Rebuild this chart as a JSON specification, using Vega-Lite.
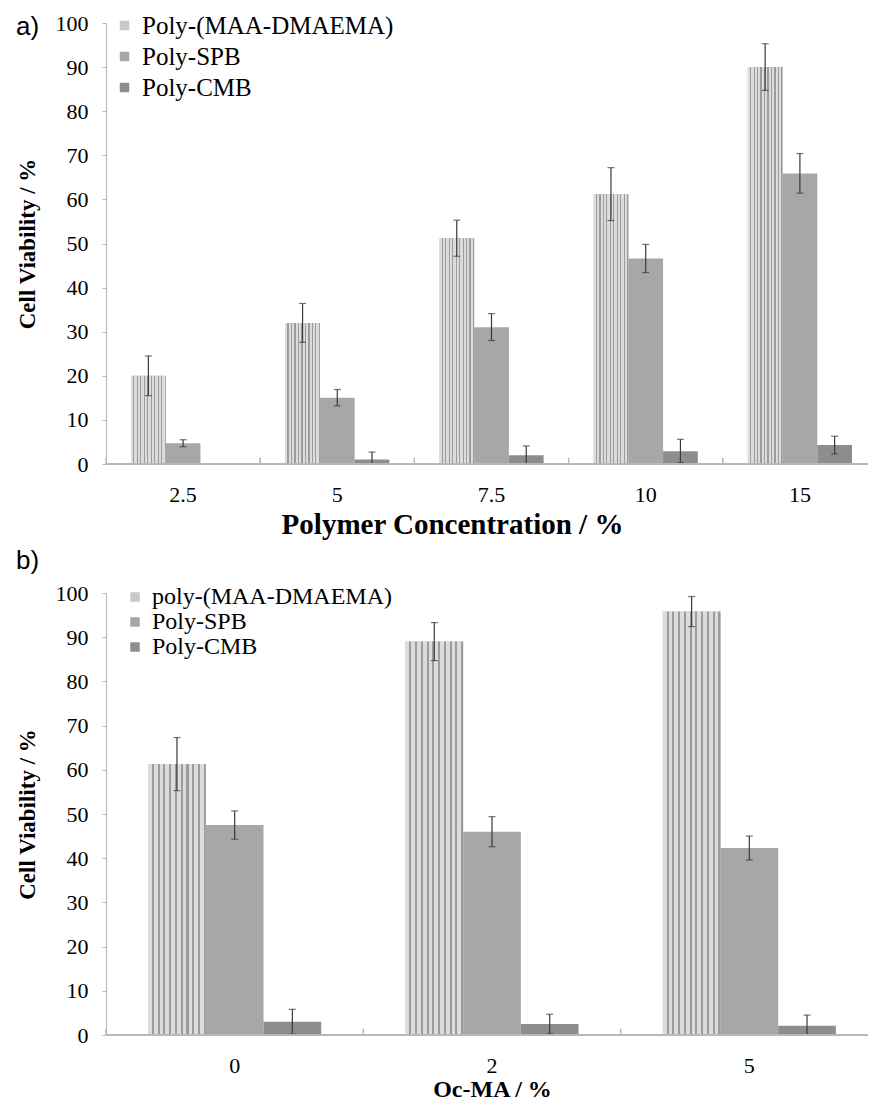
{
  "$schema": "https://vega.github.io/schema/vega-lite/v6.json",
  "background": "white",
  "padding": {"left": 16, "top": 12, "right": 0, "bottom": 0},
  "config": {
    "font": "Liberation Serif",
    "view": {"stroke": null},
    "axis": {
      "grid": false,
      "labelFont": "Liberation Serif",
      "labelFontSize": 22,
      "labelColor": "#000000",
      "titleFont": "Liberation Serif",
      "titleFontSize": 23,
      "titleFontWeight": "bold",
      "titleColor": "#000000",
      "domainColor": "#b8b8b8",
      "tickColor": "#b8b8b8"
    },
    "legend": {
      "orient": "none",
      "title": null,
      "labelFont": "Liberation Serif",
      "labelFontSize": 25,
      "labelColor": "#000000",
      "labelOffset": 5,
      "labelLimit": 400,
      "symbolType": "square",
      "symbolSize": 90,
      "symbolStrokeWidth": 0
    },
    "title": {
      "font": "Liberation Sans",
      "fontSize": 26,
      "fontWeight": "normal",
      "color": "#000000",
      "anchor": "start",
      "frame": "bounds"
    },
    "concat": {"spacing": 9}
  },
  "datasets": {
    "concentration": [
      {"conc": "2.5", "series": "Poly-(MAA-DMAEMA)", "v": 20.0, "lo": 15.5, "hi": 24.5},
      {"conc": "2.5", "series": "Poly-SPB", "v": 4.7, "lo": 3.9, "hi": 5.5},
      {"conc": "5", "series": "Poly-(MAA-DMAEMA)", "v": 32.0, "lo": 27.6, "hi": 36.4},
      {"conc": "5", "series": "Poly-SPB", "v": 15.0, "lo": 13.2, "hi": 16.9},
      {"conc": "5", "series": "Poly-CMB", "v": 1.0, "lo": 0.0, "hi": 2.7},
      {"conc": "7.5", "series": "Poly-(MAA-DMAEMA)", "v": 51.2, "lo": 47.1, "hi": 55.3},
      {"conc": "7.5", "series": "Poly-SPB", "v": 31.0, "lo": 28.0, "hi": 34.1},
      {"conc": "7.5", "series": "Poly-CMB", "v": 2.0, "lo": 0.0, "hi": 4.1},
      {"conc": "10", "series": "Poly-(MAA-DMAEMA)", "v": 61.2, "lo": 55.2, "hi": 67.2},
      {"conc": "10", "series": "Poly-SPB", "v": 46.6, "lo": 43.4, "hi": 49.8},
      {"conc": "10", "series": "Poly-CMB", "v": 2.9, "lo": 0.3, "hi": 5.6},
      {"conc": "15", "series": "Poly-(MAA-DMAEMA)", "v": 90.0, "lo": 84.7, "hi": 95.3},
      {"conc": "15", "series": "Poly-SPB", "v": 65.9, "lo": 61.4, "hi": 70.4},
      {"conc": "15", "series": "Poly-CMB", "v": 4.3, "lo": 2.3, "hi": 6.3}
    ],
    "ocma": [
      {"oc": "0", "series": "poly-(MAA-DMAEMA)", "v": 61.3, "lo": 55.3, "hi": 67.3},
      {"oc": "0", "series": "Poly-SPB", "v": 47.5, "lo": 44.3, "hi": 50.7},
      {"oc": "0", "series": "Poly-CMB", "v": 3.0, "lo": 0.2, "hi": 5.8},
      {"oc": "2", "series": "poly-(MAA-DMAEMA)", "v": 89.0, "lo": 84.7, "hi": 93.3},
      {"oc": "2", "series": "Poly-SPB", "v": 46.0, "lo": 42.6, "hi": 49.4},
      {"oc": "2", "series": "Poly-CMB", "v": 2.5, "lo": 0.3, "hi": 4.7},
      {"oc": "5", "series": "poly-(MAA-DMAEMA)", "v": 95.8, "lo": 92.4, "hi": 99.2},
      {"oc": "5", "series": "Poly-SPB", "v": 42.3, "lo": 39.6, "hi": 45.0},
      {"oc": "5", "series": "Poly-CMB", "v": 2.1, "lo": 0.0, "hi": 4.5}
    ]
  },
  "vconcat": [
    {
      "title": {"text": "a)", "offset": -28},
      "width": 762,
      "height": 441,
      "data": {"name": "concentration"},
      "layer": [
        {
          "mark": {"type": "bar"},
          "encoding": {
            "x": {"field": "conc", "type": "nominal", "title": "Polymer Concentration / %",
                  "scale": {"domain": ["2.5", "5", "7.5", "10", "15"], "range": [0, 771], "paddingInner": 0, "paddingOuter": 0},
                  "axis": {"labelAngle": 0, "ticks": false, "domain": false, "labelPadding": 20, "titlePadding": 5,
                           "titleFontSize": 29, "titleX": 346, "titleAlign": "center",
                           "labelFont": "Liberation Serif", "titleFont": "Liberation Serif"}},
            "xOffset": {"field": "series", "type": "nominal",
                        "scale": {"domain": ["Poly-(MAA-DMAEMA)", "Poly-SPB", "Poly-CMB"], "paddingInner": 0, "paddingOuter": 0.72}},
            "y": {"field": "v", "type": "quantitative", "title": "Cell Viability / %",
                  "scale": {"domain": [0, 100], "nice": false},
                  "axis": {"values": [0, 10, 20, 30, 40, 50, 60, 70, 80, 90, 100], "tickSize": 4, "labelPadding": 14, "titlePadding": 16,
                           "labelFont": "Liberation Serif", "titleFont": "Liberation Serif"}},
            "color": {"field": "series", "type": "nominal",
                      "scale": {"domain": ["Poly-(MAA-DMAEMA)", "Poly-SPB", "Poly-CMB"], "range": ["#c8c8c8", "#a7a7a7", "#8d8d8d"]},
                      "legend": {"legendX": 6, "legendY": -10, "rowPadding": 5}}
          }
        },
        {
          "transform": [{"filter": "datum.series == 'Poly-(MAA-DMAEMA)'"}],
          "mark": {"type": "bar", "fill": {"gradient": "linear", "x1": 0, "y1": 0, "x2": 1, "y2": 0, "stops": [
            {"offset": 0, "color": "#dcdcdc"}, {"offset": 0.065, "color": "#dcdcdc"}, {"offset": 0.065, "color": "#9c9c9c"}, {"offset": 0.1, "color": "#9c9c9c"},
            {"offset": 0.1, "color": "#dcdcdc"}, {"offset": 0.165, "color": "#dcdcdc"}, {"offset": 0.165, "color": "#9c9c9c"}, {"offset": 0.2, "color": "#9c9c9c"},
            {"offset": 0.2, "color": "#dcdcdc"}, {"offset": 0.265, "color": "#dcdcdc"}, {"offset": 0.265, "color": "#9c9c9c"}, {"offset": 0.3, "color": "#9c9c9c"},
            {"offset": 0.3, "color": "#dcdcdc"}, {"offset": 0.365, "color": "#dcdcdc"}, {"offset": 0.365, "color": "#9c9c9c"}, {"offset": 0.4, "color": "#9c9c9c"},
            {"offset": 0.4, "color": "#dcdcdc"}, {"offset": 0.465, "color": "#dcdcdc"}, {"offset": 0.465, "color": "#9c9c9c"}, {"offset": 0.5, "color": "#9c9c9c"},
            {"offset": 0.5, "color": "#dcdcdc"}, {"offset": 0.565, "color": "#dcdcdc"}, {"offset": 0.565, "color": "#9c9c9c"}, {"offset": 0.6, "color": "#9c9c9c"},
            {"offset": 0.6, "color": "#dcdcdc"}, {"offset": 0.665, "color": "#dcdcdc"}, {"offset": 0.665, "color": "#9c9c9c"}, {"offset": 0.7, "color": "#9c9c9c"},
            {"offset": 0.7, "color": "#dcdcdc"}, {"offset": 0.765, "color": "#dcdcdc"}, {"offset": 0.765, "color": "#9c9c9c"}, {"offset": 0.8, "color": "#9c9c9c"},
            {"offset": 0.8, "color": "#dcdcdc"}, {"offset": 0.865, "color": "#dcdcdc"}, {"offset": 0.865, "color": "#9c9c9c"}, {"offset": 0.9, "color": "#9c9c9c"},
            {"offset": 0.9, "color": "#dcdcdc"}, {"offset": 0.965, "color": "#dcdcdc"}, {"offset": 0.965, "color": "#9c9c9c"}, {"offset": 1, "color": "#9c9c9c"}
          ]}},
          "encoding": {
            "x": {"field": "conc", "type": "nominal"},
            "xOffset": {"field": "series", "type": "nominal"},
            "y": {"field": "v", "type": "quantitative", "title": "Cell Viability / %"}
          }
        },
        {
          "mark": {"type": "rule", "color": "#3a3a3a", "strokeWidth": 1.2},
          "encoding": {
            "x": {"field": "conc", "type": "nominal"},
            "xOffset": {"field": "series", "type": "nominal"},
            "y": {"field": "lo", "type": "quantitative", "title": "Cell Viability / %"},
            "y2": {"field": "hi"}
          }
        },
        {
          "mark": {"type": "tick", "color": "#3a3a3a", "thickness": 1.2, "size": 7},
          "encoding": {
            "x": {"field": "conc", "type": "nominal"},
            "xOffset": {"field": "series", "type": "nominal"},
            "y": {"field": "hi", "type": "quantitative", "title": "Cell Viability / %"}
          }
        },
        {
          "mark": {"type": "tick", "color": "#3a3a3a", "thickness": 1.2, "size": 7},
          "encoding": {
            "x": {"field": "conc", "type": "nominal"},
            "xOffset": {"field": "series", "type": "nominal"},
            "y": {"field": "lo", "type": "quantitative", "title": "Cell Viability / %"}
          }
        },
        {
          "mark": {"type": "rule", "color": "#b8b8b8", "strokeWidth": 1},
          "encoding": {
            "x": {"field": "conc", "type": "nominal", "bandPosition": 0},
            "y": {"datum": 0, "type": "quantitative"},
            "y2": {"datum": 1.4}
          }
        },
        {
          "mark": {"type": "rule", "color": "#b8b8b8", "strokeWidth": 1},
          "encoding": {"y": {"datum": 0, "type": "quantitative"}}
        }
      ]
    },
    {
      "title": {"text": "b)", "offset": 8},
      "width": 762,
      "height": 442,
      "data": {"name": "ocma"},
      "layer": [
        {
          "mark": {"type": "bar"},
          "encoding": {
            "x": {"field": "oc", "type": "nominal", "title": "Oc-MA / %",
                  "scale": {"domain": ["0", "2", "5"], "range": [0, 772], "paddingInner": 0, "paddingOuter": 0},
                  "axis": {"labelAngle": 0, "ticks": false, "domain": false, "labelPadding": 20, "titlePadding": 1,
                           "titleFontSize": 24, "titleX": 386, "titleAlign": "center",
                           "labelFont": "Liberation Serif", "titleFont": "Liberation Serif"}},
            "xOffset": {"field": "series", "type": "nominal",
                        "scale": {"domain": ["poly-(MAA-DMAEMA)", "Poly-SPB", "Poly-CMB"], "paddingInner": 0, "paddingOuter": 0.73}},
            "y": {"field": "v", "type": "quantitative", "title": "Cell Viability / %",
                  "scale": {"domain": [0, 100], "nice": false},
                  "axis": {"values": [0, 10, 20, 30, 40, 50, 60, 70, 80, 90, 100], "tickSize": 4, "labelPadding": 14, "titlePadding": 16,
                           "labelFont": "Liberation Serif", "titleFont": "Liberation Serif"}},
            "color": {"field": "series", "type": "nominal",
                      "scale": {"domain": ["poly-(MAA-DMAEMA)", "Poly-SPB", "Poly-CMB"], "range": ["#c8c8c8", "#a7a7a7", "#8d8d8d"]},
                      "legend": {"legendX": 17, "legendY": -8, "rowPadding": 1, "labelFontSize": 24}}
          }
        },
        {
          "transform": [{"filter": "datum.series == 'poly-(MAA-DMAEMA)'"}],
          "mark": {"type": "bar", "fill": {"gradient": "linear", "x1": 0, "y1": 0, "x2": 1, "y2": 0, "stops": [
            {"offset": 0, "color": "#dcdcdc"}, {"offset": 0.065, "color": "#dcdcdc"}, {"offset": 0.065, "color": "#9c9c9c"}, {"offset": 0.1, "color": "#9c9c9c"},
            {"offset": 0.1, "color": "#dcdcdc"}, {"offset": 0.165, "color": "#dcdcdc"}, {"offset": 0.165, "color": "#9c9c9c"}, {"offset": 0.2, "color": "#9c9c9c"},
            {"offset": 0.2, "color": "#dcdcdc"}, {"offset": 0.265, "color": "#dcdcdc"}, {"offset": 0.265, "color": "#9c9c9c"}, {"offset": 0.3, "color": "#9c9c9c"},
            {"offset": 0.3, "color": "#dcdcdc"}, {"offset": 0.365, "color": "#dcdcdc"}, {"offset": 0.365, "color": "#9c9c9c"}, {"offset": 0.4, "color": "#9c9c9c"},
            {"offset": 0.4, "color": "#dcdcdc"}, {"offset": 0.465, "color": "#dcdcdc"}, {"offset": 0.465, "color": "#9c9c9c"}, {"offset": 0.5, "color": "#9c9c9c"},
            {"offset": 0.5, "color": "#dcdcdc"}, {"offset": 0.565, "color": "#dcdcdc"}, {"offset": 0.565, "color": "#9c9c9c"}, {"offset": 0.6, "color": "#9c9c9c"},
            {"offset": 0.6, "color": "#dcdcdc"}, {"offset": 0.665, "color": "#dcdcdc"}, {"offset": 0.665, "color": "#9c9c9c"}, {"offset": 0.7, "color": "#9c9c9c"},
            {"offset": 0.7, "color": "#dcdcdc"}, {"offset": 0.765, "color": "#dcdcdc"}, {"offset": 0.765, "color": "#9c9c9c"}, {"offset": 0.8, "color": "#9c9c9c"},
            {"offset": 0.8, "color": "#dcdcdc"}, {"offset": 0.865, "color": "#dcdcdc"}, {"offset": 0.865, "color": "#9c9c9c"}, {"offset": 0.9, "color": "#9c9c9c"},
            {"offset": 0.9, "color": "#dcdcdc"}, {"offset": 0.965, "color": "#dcdcdc"}, {"offset": 0.965, "color": "#9c9c9c"}, {"offset": 1, "color": "#9c9c9c"}
          ]}},
          "encoding": {
            "x": {"field": "oc", "type": "nominal"},
            "xOffset": {"field": "series", "type": "nominal"},
            "y": {"field": "v", "type": "quantitative", "title": "Cell Viability / %"}
          }
        },
        {
          "mark": {"type": "rule", "color": "#3a3a3a", "strokeWidth": 1.2},
          "encoding": {
            "x": {"field": "oc", "type": "nominal"},
            "xOffset": {"field": "series", "type": "nominal"},
            "y": {"field": "lo", "type": "quantitative", "title": "Cell Viability / %"},
            "y2": {"field": "hi"}
          }
        },
        {
          "mark": {"type": "tick", "color": "#3a3a3a", "thickness": 1.2, "size": 7},
          "encoding": {
            "x": {"field": "oc", "type": "nominal"},
            "xOffset": {"field": "series", "type": "nominal"},
            "y": {"field": "hi", "type": "quantitative", "title": "Cell Viability / %"}
          }
        },
        {
          "mark": {"type": "tick", "color": "#3a3a3a", "thickness": 1.2, "size": 7},
          "encoding": {
            "x": {"field": "oc", "type": "nominal"},
            "xOffset": {"field": "series", "type": "nominal"},
            "y": {"field": "lo", "type": "quantitative", "title": "Cell Viability / %"}
          }
        },
        {
          "mark": {"type": "rule", "color": "#b8b8b8", "strokeWidth": 1},
          "encoding": {
            "x": {"field": "oc", "type": "nominal", "bandPosition": 0},
            "y": {"datum": 0, "type": "quantitative"},
            "y2": {"datum": 1.4}
          }
        },
        {
          "mark": {"type": "rule", "color": "#b8b8b8", "strokeWidth": 1},
          "encoding": {"y": {"datum": 0, "type": "quantitative"}}
        }
      ]
    }
  ],
  "resolve": {
    "scale": {"color": "independent", "xOffset": "independent"},
    "legend": {"color": "independent"}
  }
}
